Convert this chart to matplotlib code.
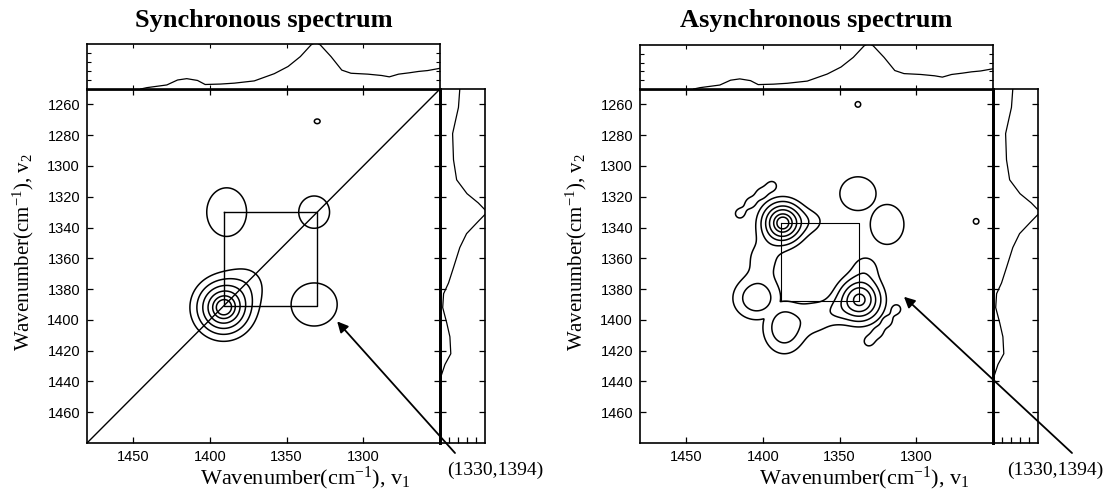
import numpy as np
import matplotlib
matplotlib.use("Agg")
import matplotlib.pyplot as plt

plt.rcParams["mathtext.fontset"] = "custom"
plt.rcParams["mathtext.rm"] = "Liberation Serif"
plt.rcParams["mathtext.it"] = "Liberation Serif:italic"

# axis ticks (wavenumber, cm-1)
v1_ticks = [1450, 1400, 1350, 1300]
v2_ticks = [1260, 1280, 1300, 1320, 1340, 1360, 1380, 1400, 1420, 1440, 1460]
wn_lo, wn_hi = 1250, 1480

# mean spectrum shown above the maps
top_wn = [1250, 1258, 1264, 1270, 1277, 1283, 1288, 1297, 1308, 1314, 1321, 1328,
          1331, 1334, 1341, 1349, 1358, 1371, 1384, 1393, 1403, 1408, 1415, 1421,
          1428, 1441, 1445]
top_int = [0.46, 0.41, 0.39, 0.36, 0.33, 0.27, 0.30, 0.33, 0.35, 0.42, 0.72, 0.98,
           1.04, 0.98, 0.72, 0.50, 0.34, 0.18, 0.13, 0.11, 0.10, 0.19, 0.23, 0.20,
           0.09, 0.03, 0.0]

# mean spectrum shown right of the maps
side_wn = [1250, 1262, 1279, 1296, 1309, 1318, 1324, 1330, 1336, 1344, 1353, 1366,
           1376, 1383, 1392, 1402, 1411, 1422, 1429, 1436, 1445, 1480]
side_int = [0.44, 0.41, 0.28, 0.30, 0.37, 0.60, 0.85, 1.05, 0.85, 0.59, 0.44, 0.30,
            0.19, 0.08, 0.06, 0.15, 0.22, 0.24, 0.11, 0.03, 0.0, 0.0]

# synchronous map peaks: centre v1, centre v2, height, width v1, width v2, group
sync_x0 = [1391, 1376, 1389, 1332, 1332, 1330]
sync_y0 = [1392, 1377, 1330, 1330, 1390, 1271]
sync_amp = [1.0, 0.12, 0.17, 0.17, 0.17, 0.11]
sync_sx = [10, 10, 11.5, 8.9, 13.3, 3]
sync_sy = [10, 10, 14, 9.3, 12.4, 2.4]
sync_grp = [0, 0, 1, 2, 3, 4]
sync_levels = [0.09, 0.22, 0.4, 0.6, 0.78, 0.9]
sync_box = [1391, 1330]

# asynchronous map peaks
async_x0 = [1387, 1368, 1404, 1400,
            1337, 1333, 1386, 1365, 1352,
            1415, 1408, 1401, 1394,
            1331, 1325, 1319, 1313,
            1338, 1319, 1261, 1338]
async_y0 = [1337, 1336, 1386, 1360,
            1387, 1366, 1405, 1398, 1394,
            1331, 1324, 1318, 1313,
            1414, 1408, 1401, 1393,
            1318, 1338, 1336, 1260]
async_amp = [1.0, 0.12, 0.33, 0.14,
             0.84, 0.14, 0.33, 0.16, 0.12,
             0.13, 0.13, 0.13, 0.13,
             0.13, 0.13, 0.13, 0.13,
             0.2, 0.2, 0.12, 0.12]
async_sx = [8, 7, 10, 9,
            8.5, 7, 9, 8, 6,
            3.8, 3.8, 3.8, 3.8,
            3.8, 3.8, 3.8, 3.8,
            10, 9.3, 3, 3]
async_sy = [8, 6, 9, 10,
            8.5, 7, 11, 8, 6,
            3.8, 3.8, 3.8, 3.8,
            3.8, 3.8, 3.8, 3.8,
            9.3, 11, 3, 3]
async_grp = [0, 0, 0, 0,
             1, 1, 1, 1, 1,
             2, 2, 2, 2,
             3, 3, 3, 3,
             4, 5, 6, 7]
async_levels = [0.1, 0.22, 0.39, 0.57, 0.77, 0.9]
async_box = [1388, 1337]

peak_label = "(1330,1394)"

W, H = 1108, 492
fig = plt.figure(figsize=(W / 100, H / 100), dpi=100)

serif = "Liberation Serif"
sans = "Liberation Sans"


def rect(x0, y0, x1, y1):
    return [x0 / W, 1 - y1 / H, (x1 - x0) / W, (y1 - y0) / H]


def field(x0s, y0s, amps, sxs, sys_, grps):
    # peaks are summed inside a group, groups are kept apart (max)
    g = np.linspace(wn_lo, wn_hi, 461)
    X, Y = np.meshgrid(g, g)
    parts = {}
    for x0, y0, a, sx, sy, k in zip(x0s, y0s, amps, sxs, sys_, grps):
        z = a * np.exp(-((X - x0) ** 2 / (2 * sx ** 2) + (Y - y0) ** 2 / (2 * sy ** 2)))
        parts[k] = parts.get(k, 0) + z
    Z = np.max(np.stack(list(parts.values())), axis=0)
    return X, Y, Z


def draw(left, top, title, Z, levels, box, diag, head, tail, text_xy, label_dx):
    right = left + 353
    bottom = 443
    ax = fig.add_axes(rect(left, 89, right, bottom))
    ax_t = fig.add_axes(rect(left, top, right, 89))
    ax_r = fig.add_axes(rect(right, 89, right + 45, bottom))
    ax_r.patch.set_visible(False)

    X, Y, F = Z
    ax.contour(X, Y, F, levels=levels, colors="black", linewidths=1.1)
    b0, b1 = box
    ax.plot([b0, b1, b1, b0, b0], [b1, b1, b0, b0, b1], color="black",
            lw=1.0 if diag else 0.8)
    if diag:
        ax.plot([wn_hi, wn_lo], [wn_hi, wn_lo], color="black", lw=1.0)
    ax.set_xlim(wn_hi, wn_lo)
    ax.set_ylim(wn_hi, wn_lo)
    ax.set_xticks(v1_ticks)
    ax.set_yticks(v2_ticks)
    ax.tick_params(direction="in", length=4, width=0.9, labelsize=10.5,
                   top=True, right=True, pad=5)
    for t in ax.get_xticklabels() + ax.get_yticklabels():
        t.set_family(sans)
    for s in ax.spines.values():
        s.set_linewidth(1.2)
    ax.spines["top"].set_linewidth(2.0)
    ax.spines["right"].set_linewidth(2.0)

    ax_t.plot(top_wn, top_int, color="black", lw=0.9)
    ax_t.set_xlim(wn_hi, wn_lo)
    ax_t.set_ylim(0, 1)
    ax_t.set_xticks(v1_ticks)
    ax_t.set_yticks([0.2, 0.4, 0.6, 0.8])
    ax_t.tick_params(direction="in", length=3, width=0.8, labelbottom=False,
                     labelleft=False, top=True, right=True)
    for s in ax_t.spines.values():
        s.set_linewidth(1.2)

    ax_r.plot(side_int, side_wn, color="black", lw=0.9)
    ax_r.set_xlim(0, 1)
    ax_r.set_ylim(wn_hi, wn_lo)
    ax_r.set_yticks(v2_ticks)
    ax_r.set_xticks([0.2, 0.4, 0.6, 0.8])
    ax_r.tick_params(direction="in", length=4, width=0.9, labelbottom=False,
                     labelleft=False, right=True)
    for s in ax_r.spines.values():
        s.set_linewidth(1.2)
    ax_r.spines["left"].set_linewidth(2.0)

    cx = (left + right) / 2
    fig.text(cx / W, 1 - 20 / H, title, family=serif, weight="bold",
             fontsize=19, ha="center", va="center")
    fig.text((cx + label_dx) / W, 1 - 478 / H,
             "Wavenumber(cm$^{\\mathrm{-1}}$), $\\mathrm{v}_1$",
             family=serif, fontsize=16, ha="center", va="center")
    fig.text((left - 64) / W, 1 - 252 / H,
             "Wavenumber(cm$^{\\mathrm{-1}}$), $\\mathrm{v}_2$",
             family=serif, fontsize=15, ha="center", va="center", rotation=90)

    ax.annotate("", xy=head, xycoords="data",
                xytext=(tail[0] / W, 1 - tail[1] / H), textcoords="figure fraction",
                arrowprops=dict(arrowstyle="-|>", color="black", lw=1.3,
                                mutation_scale=16, shrinkA=0, shrinkB=0),
                annotation_clip=False, zorder=10)
    fig.text(text_xy[0] / W, 1 - text_xy[1] / H, peak_label, family=serif,
             fontsize=14, ha="center", va="center")


draw(87, 44, "Synchronous spectrum",
     field(sync_x0, sync_y0, sync_amp, sync_sx, sync_sy, sync_grp), sync_levels,
     sync_box, True, (1317, 1401), (455, 453), (495, 470), 42)
draw(640, 45, "Asynchronous spectrum",
     field(async_x0, async_y0, async_amp, async_sx, async_sy, async_grp), async_levels,
     async_box, False, (1308, 1385), (1072, 453), (1055, 470), 48)

fig.savefig("out.png", dpi=100)
